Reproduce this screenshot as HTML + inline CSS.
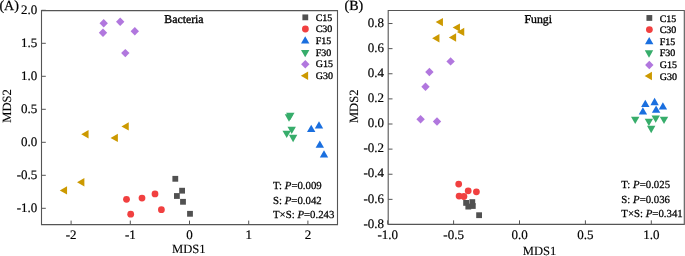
<!DOCTYPE html>
<html><head><meta charset="utf-8"><title>NMDS plots</title>
<style>
html,body{margin:0;padding:0;background:#fff;}
body{width:685px;height:256px;overflow:hidden;}
svg{display:block;font-family:"Liberation Serif", serif;will-change:transform;text-rendering:geometricPrecision;}
text{fill:#000;stroke:#000;stroke-width:0.25px;}
.tk{stroke-width:0.2px;}
.lg{stroke-width:0.32px;}
.ax{stroke-width:0.12px;}
.tt{stroke-width:0.35px;}
</style></head><body>
<svg width="685" height="256" viewBox="0 0 685 256">
<line x1="71.10" y1="224.60" x2="71.10" y2="220.60" stroke="#555555" stroke-width="1.0"/>
<text x="71.10" y="238.80" font-size="13" text-anchor="middle" class="tk">-2</text>
<line x1="130.30" y1="224.60" x2="130.30" y2="220.60" stroke="#555555" stroke-width="1.0"/>
<text x="130.30" y="238.80" font-size="13" text-anchor="middle" class="tk">-1</text>
<line x1="189.50" y1="224.60" x2="189.50" y2="220.60" stroke="#555555" stroke-width="1.0"/>
<text x="189.50" y="238.80" font-size="13" text-anchor="middle" class="tk">0</text>
<line x1="248.70" y1="224.60" x2="248.70" y2="220.60" stroke="#555555" stroke-width="1.0"/>
<text x="248.70" y="238.80" font-size="13" text-anchor="middle" class="tk">1</text>
<line x1="307.90" y1="224.60" x2="307.90" y2="220.60" stroke="#555555" stroke-width="1.0"/>
<text x="307.90" y="238.80" font-size="13" text-anchor="middle" class="tk">2</text>
<line x1="41.50" y1="10.30" x2="45.80" y2="10.30" stroke="#555555" stroke-width="1.0"/>
<text x="37.30" y="13.50" font-size="13" text-anchor="end" class="tk">2.0</text>
<line x1="41.50" y1="43.30" x2="45.80" y2="43.30" stroke="#555555" stroke-width="1.0"/>
<text x="37.30" y="46.50" font-size="13" text-anchor="end" class="tk">1.5</text>
<line x1="41.50" y1="76.30" x2="45.80" y2="76.30" stroke="#555555" stroke-width="1.0"/>
<text x="37.30" y="79.50" font-size="13" text-anchor="end" class="tk">1.0</text>
<line x1="41.50" y1="109.30" x2="45.80" y2="109.30" stroke="#555555" stroke-width="1.0"/>
<text x="37.30" y="112.50" font-size="13" text-anchor="end" class="tk">0.5</text>
<line x1="41.50" y1="142.30" x2="45.80" y2="142.30" stroke="#555555" stroke-width="1.0"/>
<text x="37.30" y="145.50" font-size="13" text-anchor="end" class="tk">0.0</text>
<line x1="41.50" y1="175.30" x2="45.80" y2="175.30" stroke="#555555" stroke-width="1.0"/>
<text x="37.30" y="178.50" font-size="13" text-anchor="end" class="tk">-0.5</text>
<line x1="41.50" y1="208.30" x2="45.80" y2="208.30" stroke="#555555" stroke-width="1.0"/>
<text x="37.30" y="211.50" font-size="13" text-anchor="end" class="tk">-1.0</text>
<path d="M41.50,10.60H337.50V224.60H41.50Z" fill="none" stroke="#555555" stroke-width="1.1"/>
<text x="164.30" y="23.10" font-size="11.8" text-anchor="start" class="tt">Bacteria</text>
<rect x="302.40" y="14.45" width="5.8" height="5.8" fill="#515151"/>
<text x="315.70" y="20.75" font-size="10" text-anchor="start" class="lg">C15</text>
<circle cx="305.40" cy="29.00" r="3.4" fill="#F14040"/>
<text x="315.70" y="32.34" font-size="10" text-anchor="start" class="lg">C30</text>
<polygon points="301.00,43.50 309.40,43.50 305.20,36.20" fill="#1A6FDF"/>
<text x="315.70" y="43.93" font-size="10" text-anchor="start" class="lg">F15</text>
<polygon points="301.00,49.95 309.40,49.95 305.20,57.25" fill="#37AD6B"/>
<text x="315.70" y="55.52" font-size="10" text-anchor="start" class="lg">F30</text>
<polygon points="305.30,60.00 309.50,64.20 305.30,68.40 301.10,64.20" fill="#B177DE"/>
<text x="315.70" y="67.11" font-size="10" text-anchor="start" class="lg">G15</text>
<polygon points="308.15,71.50 308.15,79.90 300.85,75.70" fill="#CC9900"/>
<text x="315.70" y="78.70" font-size="10" text-anchor="start" class="lg">G30</text>
<text x="273.00" y="189.00" font-size="10.8">T: <tspan font-style="italic">P</tspan>=0.009</text>
<text x="273.00" y="203.50" font-size="10.8">S: <tspan font-style="italic">P</tspan>=0.042</text>
<text x="273.00" y="218.00" font-size="10.8">T×S: <tspan font-style="italic">P</tspan>=0.243</text>
<text class="ax" transform="translate(11.40,106.00) rotate(-90)" font-size="12.6" text-anchor="middle">MDS2</text>
<text x="188.80" y="253.10" font-size="12.6" text-anchor="middle" class="ax">MDS1</text>
<line x1="387.70" y1="224.35" x2="387.70" y2="220.35" stroke="#555555" stroke-width="1.0"/>
<text x="387.70" y="238.80" font-size="13" text-anchor="middle" class="tk">-1.0</text>
<line x1="453.60" y1="224.35" x2="453.60" y2="220.35" stroke="#555555" stroke-width="1.0"/>
<text x="453.60" y="238.80" font-size="13" text-anchor="middle" class="tk">-0.5</text>
<line x1="519.50" y1="224.35" x2="519.50" y2="220.35" stroke="#555555" stroke-width="1.0"/>
<text x="519.50" y="238.80" font-size="13" text-anchor="middle" class="tk">0.0</text>
<line x1="585.40" y1="224.35" x2="585.40" y2="220.35" stroke="#555555" stroke-width="1.0"/>
<text x="585.40" y="238.80" font-size="13" text-anchor="middle" class="tk">0.5</text>
<line x1="651.30" y1="224.35" x2="651.30" y2="220.35" stroke="#555555" stroke-width="1.0"/>
<text x="651.30" y="238.80" font-size="13" text-anchor="middle" class="tk">1.0</text>
<line x1="388.20" y1="23.52" x2="392.50" y2="23.52" stroke="#555555" stroke-width="1.0"/>
<text x="384.00" y="26.72" font-size="13" text-anchor="end" class="tk">0.8</text>
<line x1="388.20" y1="48.64" x2="392.50" y2="48.64" stroke="#555555" stroke-width="1.0"/>
<text x="384.00" y="51.84" font-size="13" text-anchor="end" class="tk">0.6</text>
<line x1="388.20" y1="73.76" x2="392.50" y2="73.76" stroke="#555555" stroke-width="1.0"/>
<text x="384.00" y="76.96" font-size="13" text-anchor="end" class="tk">0.4</text>
<line x1="388.20" y1="98.88" x2="392.50" y2="98.88" stroke="#555555" stroke-width="1.0"/>
<text x="384.00" y="102.08" font-size="13" text-anchor="end" class="tk">0.2</text>
<line x1="388.20" y1="124.00" x2="392.50" y2="124.00" stroke="#555555" stroke-width="1.0"/>
<text x="384.00" y="127.20" font-size="13" text-anchor="end" class="tk">0.0</text>
<line x1="388.20" y1="149.12" x2="392.50" y2="149.12" stroke="#555555" stroke-width="1.0"/>
<text x="384.00" y="152.32" font-size="13" text-anchor="end" class="tk">-0.2</text>
<line x1="388.20" y1="174.24" x2="392.50" y2="174.24" stroke="#555555" stroke-width="1.0"/>
<text x="384.00" y="177.44" font-size="13" text-anchor="end" class="tk">-0.4</text>
<line x1="388.20" y1="199.36" x2="392.50" y2="199.36" stroke="#555555" stroke-width="1.0"/>
<text x="384.00" y="202.56" font-size="13" text-anchor="end" class="tk">-0.6</text>
<line x1="388.20" y1="224.48" x2="392.50" y2="224.48" stroke="#555555" stroke-width="1.0"/>
<text x="384.00" y="227.68" font-size="13" text-anchor="end" class="tk">-0.8</text>
<path d="M388.20,10.45H684.30V224.35H388.20Z" fill="none" stroke="#555555" stroke-width="1.1"/>
<text x="524.50" y="23.10" font-size="11.8" text-anchor="start" class="tt">Fungi</text>
<rect x="646.45" y="15.05" width="5.8" height="5.8" fill="#515151"/>
<text x="659.70" y="21.50" font-size="10" text-anchor="start" class="lg">C15</text>
<circle cx="649.40" cy="29.55" r="3.4" fill="#F14040"/>
<text x="659.70" y="33.12" font-size="10" text-anchor="start" class="lg">C30</text>
<polygon points="645.00,44.25 653.40,44.25 649.20,36.95" fill="#1A6FDF"/>
<text x="659.70" y="44.74" font-size="10" text-anchor="start" class="lg">F15</text>
<polygon points="644.80,50.35 653.20,50.35 649.00,57.65" fill="#37AD6B"/>
<text x="659.70" y="56.36" font-size="10" text-anchor="start" class="lg">F30</text>
<polygon points="649.30,60.80 653.50,65.00 649.30,69.20 645.10,65.00" fill="#B177DE"/>
<text x="659.70" y="67.98" font-size="10" text-anchor="start" class="lg">G15</text>
<polygon points="651.95,71.80 651.95,80.20 644.65,76.00" fill="#CC9900"/>
<text x="659.70" y="79.60" font-size="10" text-anchor="start" class="lg">G30</text>
<text x="621.30" y="188.20" font-size="10.8">T: <tspan font-style="italic">P</tspan>=0.025</text>
<text x="621.30" y="202.70" font-size="10.8">S: <tspan font-style="italic">P</tspan>=0.036</text>
<text x="621.30" y="217.20" font-size="10.8">T×S: <tspan font-style="italic">P</tspan>=0.341</text>
<text class="ax" transform="translate(358.00,106.30) rotate(-90)" font-size="12.6" text-anchor="middle">MDS2</text>
<text x="539.50" y="254.60" font-size="12.6" text-anchor="middle" class="ax">MDS1</text>
<rect x="172.40" y="175.90" width="5.8" height="5.8" fill="#515151"/>
<rect x="179.20" y="187.80" width="5.8" height="5.8" fill="#515151"/>
<rect x="174.00" y="193.10" width="5.8" height="5.8" fill="#515151"/>
<rect x="180.10" y="198.90" width="5.8" height="5.8" fill="#515151"/>
<rect x="187.10" y="210.90" width="5.8" height="5.8" fill="#515151"/>
<circle cx="126.50" cy="199.30" r="3.4" fill="#F14040"/>
<circle cx="142.00" cy="198.10" r="3.4" fill="#F14040"/>
<circle cx="155.00" cy="193.90" r="3.4" fill="#F14040"/>
<circle cx="130.70" cy="214.20" r="3.4" fill="#F14040"/>
<circle cx="161.40" cy="209.70" r="3.4" fill="#F14040"/>
<polygon points="307.00,131.95 315.40,131.95 311.20,124.65" fill="#1A6FDF"/>
<polygon points="314.80,128.55 323.20,128.55 319.00,121.25" fill="#1A6FDF"/>
<polygon points="315.60,147.85 324.00,147.85 319.80,140.55" fill="#1A6FDF"/>
<polygon points="319.80,157.55 328.20,157.55 324.00,150.25" fill="#1A6FDF"/>
<polygon points="284.80,114.35 293.20,114.35 289.00,121.65" fill="#37AD6B"/>
<polygon points="286.10,112.75 294.50,112.75 290.30,120.05" fill="#37AD6B"/>
<polygon points="287.50,126.65 295.90,126.65 291.70,133.95" fill="#37AD6B"/>
<polygon points="282.50,130.75 290.90,130.75 286.70,138.05" fill="#37AD6B"/>
<polygon points="288.90,134.85 297.30,134.85 293.10,142.15" fill="#37AD6B"/>
<polygon points="103.70,19.10 107.90,23.30 103.70,27.50 99.50,23.30" fill="#B177DE"/>
<polygon points="120.20,17.60 124.40,21.80 120.20,26.00 116.00,21.80" fill="#B177DE"/>
<polygon points="103.00,28.50 107.20,32.70 103.00,36.90 98.80,32.70" fill="#B177DE"/>
<polygon points="134.80,27.00 139.00,31.20 134.80,35.40 130.60,31.20" fill="#B177DE"/>
<polygon points="125.30,48.90 129.50,53.10 125.30,57.30 121.10,53.10" fill="#B177DE"/>
<polygon points="88.55,130.10 88.55,138.50 81.25,134.30" fill="#CC9900"/>
<polygon points="117.85,133.70 117.85,142.10 110.55,137.90" fill="#CC9900"/>
<polygon points="128.75,122.20 128.75,130.60 121.45,126.40" fill="#CC9900"/>
<polygon points="84.35,178.00 84.35,186.40 77.05,182.20" fill="#CC9900"/>
<polygon points="67.05,186.20 67.05,194.60 59.75,190.40" fill="#CC9900"/>
<circle cx="458.70" cy="184.10" r="3.4" fill="#F14040"/>
<circle cx="468.20" cy="190.80" r="3.4" fill="#F14040"/>
<circle cx="476.40" cy="191.80" r="3.4" fill="#F14040"/>
<circle cx="459.10" cy="196.10" r="3.4" fill="#F14040"/>
<circle cx="463.90" cy="196.50" r="3.4" fill="#F14040"/>
<rect x="463.20" y="200.00" width="5.8" height="5.8" fill="#515151"/>
<rect x="469.40" y="199.20" width="5.8" height="5.8" fill="#515151"/>
<rect x="465.40" y="203.70" width="5.8" height="5.8" fill="#515151"/>
<rect x="469.90" y="203.10" width="5.8" height="5.8" fill="#515151"/>
<rect x="476.20" y="212.30" width="5.8" height="5.8" fill="#515151"/>
<polygon points="641.10,107.05 649.50,107.05 645.30,99.75" fill="#1A6FDF"/>
<polygon points="650.40,105.15 658.80,105.15 654.60,97.85" fill="#1A6FDF"/>
<polygon points="658.70,109.55 667.10,109.55 662.90,102.25" fill="#1A6FDF"/>
<polygon points="638.70,114.55 647.10,114.55 642.90,107.25" fill="#1A6FDF"/>
<polygon points="651.90,112.85 660.30,112.85 656.10,105.55" fill="#1A6FDF"/>
<polygon points="631.00,116.65 639.40,116.65 635.20,123.95" fill="#37AD6B"/>
<polygon points="644.70,118.75 653.10,118.75 648.90,126.05" fill="#37AD6B"/>
<polygon points="651.50,115.55 659.90,115.55 655.70,122.85" fill="#37AD6B"/>
<polygon points="659.80,116.75 668.20,116.75 664.00,124.05" fill="#37AD6B"/>
<polygon points="647.00,125.85 655.40,125.85 651.20,133.15" fill="#37AD6B"/>
<polygon points="450.60,57.20 454.80,61.40 450.60,65.60 446.40,61.40" fill="#B177DE"/>
<polygon points="429.40,67.80 433.60,72.00 429.40,76.20 425.20,72.00" fill="#B177DE"/>
<polygon points="425.50,82.50 429.70,86.70 425.50,90.90 421.30,86.70" fill="#B177DE"/>
<polygon points="420.60,115.10 424.80,119.30 420.60,123.50 416.40,119.30" fill="#B177DE"/>
<polygon points="437.00,117.30 441.20,121.50 437.00,125.70 432.80,121.50" fill="#B177DE"/>
<polygon points="442.95,17.90 442.95,26.30 435.65,22.10" fill="#CC9900"/>
<polygon points="459.95,23.40 459.95,31.80 452.65,27.60" fill="#CC9900"/>
<polygon points="464.25,27.70 464.25,36.10 456.95,31.90" fill="#CC9900"/>
<polygon points="439.45,34.00 439.45,42.40 432.15,38.20" fill="#CC9900"/>
<polygon points="456.15,33.30 456.15,41.70 448.85,37.50" fill="#CC9900"/>
<text x="-0.60" y="10.20" font-size="14" text-anchor="start" >(A)</text>
<text x="344.50" y="10.00" font-size="14" text-anchor="start" >(B)</text>
</svg>
</body></html>
